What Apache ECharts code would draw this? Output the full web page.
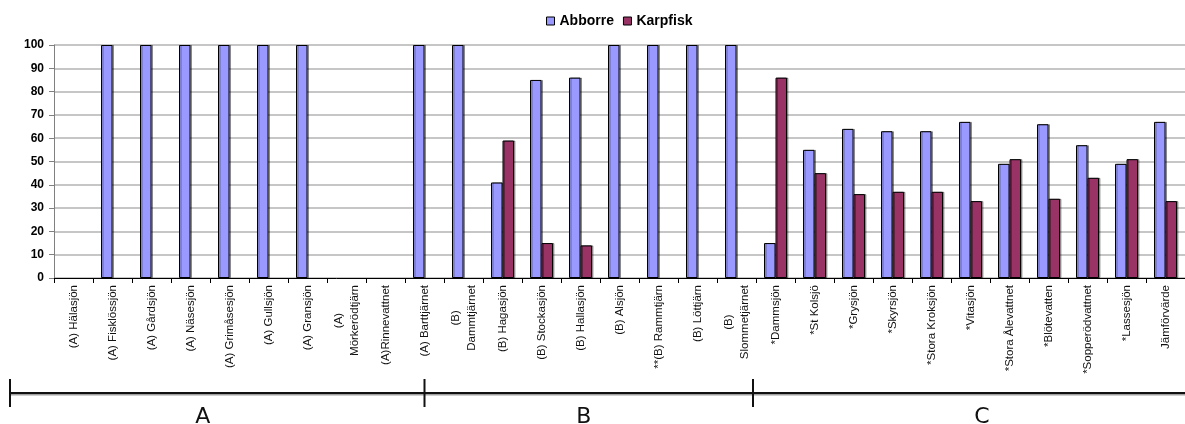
<!DOCTYPE html>
<html>
<head>
<meta charset="utf-8">
<script src="https://cdn.jsdelivr.net/npm/echarts@6/dist/echarts.min.js"></script>
<style>
html,body{margin:0;padding:0;background:#fff;}
#chart{width:1185px;height:424px;}
</style>
</head>
<body>
<div id="chart"></div>
<script>
const categories = [
  "(A) Hälasjön", "(A) Fisklössjön", "(A) Gårdsjön", "(A) Näsesjön", "(A) Grimåsesjön",
  "(A) Gullsjön", "(A) Gransjön", "(A)\nMörkerödtjärn", "(A)Rinnevattnet", "(A) Barttjärnet",
  "(B)\nDammtjärnet", "(B) Hagasjön", "(B) Stockasjön", "(B) Hallasjön", "(B) Alsjön",
  "**(B) Rammtjärn", "(B) Löttjärn", "(B)\nSlommetjärnet",
  "*Dammsjön", "*St Kolsjö", "*Grysjön", "*Skyrsjön", "*Stora Kroksjön", "*Vitasjön",
  "*Stora Ålevattnet", "*Blötevatten", "*Sopperödvattnet", "*Lassesjön", "Jämförvärde"
];
const abborre = [
  null, 100, 100, 100, 100, 100, 100, null, null, 100,
  100, 41, 85, 86, 100, 100, 100, 100,
  15, 55, 64, 63, 63, 67, 49, 66, 57, 49, 67
];
const karpfisk = [
  null, null, null, null, null, null, null, null, null, null,
  null, 59, 15, 14, null, null, null, null,
  86, 45, 36, 37, 37, 33, 51, 34, 43, 51, 33
];
const yTicks = [0, 10, 20, 30, 40, 50, 60, 70, 80, 90, 100];
const groupLabels = ["A", "B", "C"];

const chart = echarts.init(document.getElementById('chart'), null, {renderer: 'canvas'});
const barStyle = (c) => ({
  color: c, borderColor: '#000', borderWidth: 1,
  shadowColor: 'rgba(0,0,0,0.35)', shadowOffsetX: 1.5, shadowOffsetY: 0, shadowBlur: 0
});
chart.setOption({
  animation: false,
  textStyle: {fontFamily: 'Liberation Sans, Arial, sans-serif'},
  legend: {
    top: 9, left: 541,
    itemWidth: 8, itemHeight: 8, itemGap: 9,
    icon: 'rect',
    textStyle: {fontSize: 14, fontWeight: 'bold', color: '#000', fontFamily: 'Liberation Sans, Arial, sans-serif'},
    itemStyle: {borderColor: '#000', borderWidth: 1, shadowBlur: 0, shadowOffsetX: 0},
    data: ['Abborre', 'Karpfisk']
  },
  grid: {left: 54, top: 45, right: -2, bottom: 146, containLabel: false},
  xAxis: {
    type: 'category',
    data: categories,
    boundaryGap: true,
    axisLine: {lineStyle: {color: '#000', width: 1}},
    axisTick: {show: true, length: 5, lineStyle: {color: '#000'}, alignWithLabel: false},
    axisLabel: {
      interval: 0, rotate: 90, margin: 7,
      fontSize: 11.5, color: '#111',
      formatter: (v) => v.split('\n').map(s => '{c|' + s + '}').join('\n'),
      rich: {c: {align: 'center', fontSize: 11.5, lineHeight: 16, color: '#111', fontFamily: 'Liberation Sans, Arial, sans-serif'}}
    },
    splitLine: {show: false}
  },
  yAxis: {
    type: 'value', min: 0, max: 100, interval: 10,
    axisLine: {show: true, lineStyle: {color: '#808080', width: 1}},
    axisTick: {show: true, length: 5, lineStyle: {color: '#808080'}},
    axisLabel: {
      fontSize: 12, fontWeight: 'bold', color: '#000', margin: 10,
      formatter: (v) => yTicks.includes(v) ? String(v) : ''
    },
    splitLine: {lineStyle: {color: '#c6c6c6', width: 2}}
  },
  series: [
    {name: 'Abborre', type: 'bar', data: abborre, barWidth: 11.5, barGap: '0%', itemStyle: barStyle('#9999FF')},
    {name: 'Karpfisk', type: 'bar', data: karpfisk, barWidth: 11.5, barGap: '0%', itemStyle: barStyle('#993366')}
  ]
});

// Group bracket below the chart, positioned from the category axis
function drawBracket() {
  const step = chart.convertToPixel({xAxisIndex: 0}, categories[1]) - chart.convertToPixel({xAxisIndex: 0}, categories[0]);
  const x0 = 10;
  const x1 = chart.convertToPixel({xAxisIndex: 0}, categories[9]);
  const x2 = chart.convertToPixel({xAxisIndex: 0}, categories[17]) + step / 2 - 3;
  const x3 = 1185;
  const yLine = 393;
  const els = [
    {type: 'line', shape: {x1: x0, y1: yLine + 1.8, x2: x3, y2: yLine + 1.8}, style: {stroke: '#a0a0a0', lineWidth: 1.5}},
    {type: 'line', shape: {x1: x0, y1: yLine, x2: x3, y2: yLine}, style: {stroke: '#111', lineWidth: 2}}
  ];
  [x0, x1, x2].forEach(x => els.push({type: 'line', shape: {x1: x, y1: 379, x2: x, y2: 407}, style: {stroke: '#111', lineWidth: 2}}));
  const centers = [x0 + (x1 - x0) * 0.465, x1 + (x2 - x1) * 0.485, x2 + (x3 - x2) * 0.53];
  groupLabels.forEach((t, i) => els.push({
    type: 'text', x: centers[i], y: 417,
    style: {text: t, fontSize: 22, fill: '#111', align: 'center', verticalAlign: 'middle',
      fontFamily: 'DejaVu Sans, sans-serif'}
  }));
  chart.setOption({graphic: {elements: els}});
}
drawBracket();
</script>
</body>
</html>
